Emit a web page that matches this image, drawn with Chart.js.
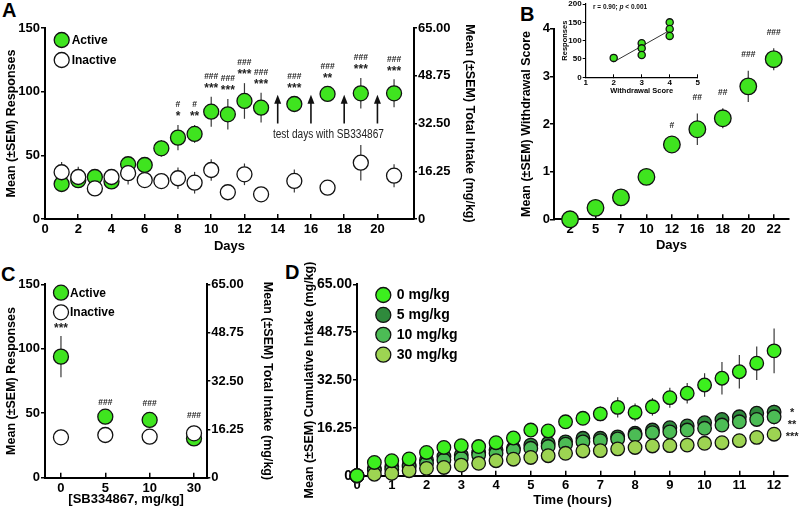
<!DOCTYPE html>
<html lang="en">
<head>
<meta charset="UTF-8">
<title>SB334867 self-administration figure</title>
<script src="https://cdn.jsdelivr.net/npm/chart.js"></script>
<style>
  body { margin: 0; width: 800px; height: 512px; position: relative; background: #fff; overflow: hidden;
         font-family: 'Liberation Sans', Arial, sans-serif; }
  canvas { position: absolute; }
  .panel { position: absolute; font-weight: bold; font-size: 20px; line-height: 1; }
</style>
</head>
<body>
<div class="panel" style="left:2px;top:0px">A</div>
<div class="panel" style="left:520px;top:4px">B</div>
<div class="panel" style="left:1px;top:264px">C</div>
<div class="panel" style="left:285px;top:262px">D</div>

<canvas id="chartA" width="481" height="258" style="left:0;top:0"></canvas>
<canvas id="chartB" width="285" height="257" style="left:515px;top:0"></canvas>
<canvas id="chartInset" width="150" height="103" style="left:558px;top:-6px"></canvas>
<canvas id="chartC" width="279" height="256" style="left:0;top:255px"></canvas>
<canvas id="chartD" width="502" height="257" style="left:298px;top:255px"></canvas>

<script>
// ---- data ----
// A: acquisition, responses per day
const daysA = [1, 2, 3, 4, 5, 6, 7, 8, 9, 10, 11, 12, 13, 15, 17, 19, 21];
const activeA = [27.5, 30.5, 33, 29.5, 43, 42.4, 55.5, 63.9, 66.8, 84.3, 82.2, 92.7, 87.4, 90.3, 98.2, 98.7, 98.7];
const activeSemA = [3, 3, 3, 3, 5.5, 3.5, 6.5, 10, 7, 11.8, 12, 14, 11.7, 6, 6, 12, 11];
const inactiveA = [36.7, 33, 24, 33, 36, 30.6, 29.8, 32, 28.5, 38.5, 21, 35.1, 19.4, 29.9, 24.6, 44.2, 34];
const inactiveSemA = [8, 8, 5, 5, 9, 5.5, 4, 8.5, 8.5, 8.5, 4, 8.5, 3, 9, 3, 14, 9];
const starsA = ['', '', '', '', '', '', '', '*', '**', '***', '***', '***', '***', '***', '**', '***', '***'];
const hashesA = ['', '', '', '', '', '', '', '#', '#', '###', '###', '###', '###', '###', '###', '###', '###'];
const testDays = [14, 16, 18, 20];
const seriesNames = ['Active', 'Inactive'];

// B: withdrawal score
const withdrawalDays = ['2', '5', '7', '10', '12', '16', '18', '20', '22'];
const withdrawalScore = [0, 0.24, 0.46, 0.89, 1.57, 1.89, 2.12, 2.79, 3.36];
const withdrawalSem = [0.03, 0.06, 0.08, 0.1, 0.05, 0.33, 0.21, 0.33, 0.23];
const withdrawalSig = ['', '', '', '', '#', '##', '##', '###', '###'];

// B inset: responses vs withdrawal score
const insetScore = [2, 3, 3, 3, 4, 4, 4];
const insetResponses = [53, 93, 79, 61, 150, 132, 113];

// C: SB334867 dose
const dosesC = ['0', '5', '10', '30'];
const activeC = [93.9, 47.3, 44.8, 30.5];
const activeSemC = [16, 3, 5, 3];
const inactiveC = [31.3, 33.1, 31.8, 34.4];
const inactiveSemC = [6, 4, 5, 6];
const starsC = ['***', '', '', ''];
const hashesC = ['', '###', '###', '###'];

// D: cumulative intake over the session
const hours = [0, 0.5, 1, 1.5, 2, 2.5, 3, 3.5, 4, 4.5, 5, 5.5, 6, 6.5, 7, 7.5, 8, 8.5, 9, 9.5, 10, 10.5, 11, 11.5, 12];
const doseLabels = ['0 mg/kg', '5 mg/kg', '10 mg/kg', '30 mg/kg'];
const intake0 = [0, 4.5, 5.1, 5.7, 7.9, 9.6, 10.2, 9.9, 11.2, 12.8, 15.5, 15.2, 18.3, 19.5, 21.0, 23.2, 21.5, 23.4, 26.5, 28.0, 30.8, 33.1, 35.3, 38.2, 42.4];
const sem0 = [0, 1, 1, 1, 1.2, 1.5, 1.5, 1.5, 1.8, 2, 2, 2, 2.2, 2.2, 2.5, 3.4, 3, 3, 3.4, 3.5, 4, 5.5, 5.7, 5.7, 7.6];
const intake5 = [0, 2.5, 3.0, 3.6, 5.3, 6.5, 7.0, 7.9, 8.7, 9.3, 10.4, 11.0, 11.5, 12.7, 12.7, 13.2, 14.4, 15.5, 16.3, 16.9, 18.0, 19.1, 20.0, 21.2, 21.6];
const sem5 = [0, 0.8, 0.8, 0.9, 1, 1, 1.1, 1.2, 1.2, 1.3, 1.3, 1.4, 1.4, 1.5, 1.5, 1.6, 1.6, 1.7, 1.8, 1.8, 2, 2, 2.2, 2.3, 2.5];
const intake10 = [0, 1.9, 2.2, 3.0, 4.2, 5.3, 5.9, 7.0, 7.6, 8.7, 9.3, 9.9, 10.7, 11.5, 11.9, 12.5, 13.8, 14.6, 14.9, 15.5, 16.1, 17.2, 18.3, 19.1, 20.0];
const sem10 = [0, 0.7, 0.8, 0.8, 1, 1, 1.1, 1.1, 1.2, 1.2, 1.3, 1.3, 1.4, 1.4, 1.5, 1.5, 1.6, 1.7, 1.8, 1.8, 2, 2.1, 2.3, 2.4, 2.6];
const intake30 = [0, 0.5, 0.8, 1.7, 2.5, 2.8, 3.6, 4.2, 5.1, 5.6, 6.2, 6.8, 7.6, 8.4, 8.5, 9.1, 9.6, 10.1, 10.2, 10.4, 11.0, 11.2, 11.9, 13.0, 14.1];
const sem30 = [0, 0.5, 0.6, 0.7, 0.8, 0.8, 0.9, 0.9, 1, 1, 1.1, 1.1, 1.2, 1.2, 1.3, 1.3, 1.4, 1.4, 1.4, 1.5, 1.5, 1.6, 1.7, 1.9, 2];
const starsD = ['', '*', '**', '***'];

// ---- styling ----
const FONT = "'Liberation Sans', Arial, sans-serif";
const GREEN = '#3fe41f';
const doseColors = ['#3cef1e', '#2f8a3c', '#4cbc55', '#9dd452'];
Chart.defaults.font.family = FONT;
Chart.defaults.color = '#000';

const pts = (xs, ys) => xs.map((x, i) => ({ x: x, y: ys[i] }));
const idx = arr => arr.map((_, i) => i);
const intakeFmt = v => v === 0 ? '0' : v.toFixed(2);

function axis(o) {
  const a = {
    type: 'linear', position: o.pos, min: o.min, max: o.max, display: true,
    afterFit: s => { if (o.pos === 'bottom') s.height = o.size; else s.width = o.size; },
    ticks: {
      stepSize: o.step, color: '#000', font: { size: o.fs || 13, weight: 'bold' },
      padding: o.pad, autoSkip: false, maxRotation: 0,
      callback: o.fmt || (v => v)
    },
    grid: { display: true, drawOnChartArea: false, drawTicks: true, tickLength: o.tl, color: '#000', lineWidth: o.tw || 1.5 },
    border: { display: true, color: '#000', width: o.bw || 2 },
    title: { display: true, text: o.title, color: '#000', font: { size: o.tfs || 12.5, weight: 'bold' },
             padding: { top: o.tp || 4, bottom: o.tp || 4 } }
  };
  if (o.ticks) a.afterBuildTicks = s => { s.ticks = o.ticks.map(v => ({ value: v })); };
  return a;
}

function dot(label, data, sem, fill, r) {
  return { label: label, data: data, sem: sem, clip: false,
           pointRadius: r, pointHoverRadius: r, pointBackgroundColor: fill,
           pointBorderColor: '#111', pointBorderWidth: 1.3 };
}

// vertical SEM bars, drawn behind the circles
const errorBars = {
  id: 'errorBars',
  beforeDatasetsDraw(chart) {
    const ctx = chart.ctx;
    chart.data.datasets.forEach((ds, i) => {
      if (!ds.sem) return;
      const meta = chart.getDatasetMeta(i);
      const ys = chart.scales[meta.yAxisID];
      ctx.save();
      ctx.strokeStyle = '#3a3a3a';
      ctx.lineWidth = 1.2;
      meta.data.forEach((pt, j) => {
        const v = ds.data[j].y, e = ds.sem[j];
        if (!e) return;
        ctx.beginPath();
        ctx.moveTo(pt.x, ys.getPixelForValue(v - e));
        ctx.lineTo(pt.x, ys.getPixelForValue(v + e));
        ctx.stroke();
      });
      ctx.restore();
    });
  }
};

function drawSig(ctx, px, py, stars, hashes, base) {
  ctx.save();
  ctx.fillStyle = '#222';
  ctx.textAlign = 'center';
  ctx.textBaseline = 'middle';
  let yy = py - base;
  if (stars) { ctx.font = 'bold 12px ' + FONT; ctx.fillText(stars, px, yy + 3); yy -= 9; }
  if (hashes) { ctx.font = 'bold 8.5px ' + FONT; ctx.fillText(hashes, px, yy); }
  ctx.restore();
}

function legendDot(ctx, x, y, r, fill, text, size, gap) {
  ctx.save();
  ctx.beginPath();
  ctx.arc(x, y, r, 0, Math.PI * 2);
  ctx.fillStyle = fill;
  ctx.fill();
  ctx.lineWidth = 1.3;
  ctx.strokeStyle = '#111';
  ctx.stroke();
  ctx.fillStyle = '#000';
  ctx.font = 'bold ' + size + 'px ' + FONT;
  ctx.textAlign = 'left';
  ctx.textBaseline = 'middle';
  ctx.fillText(text, x + r + gap, y + 0.5);
  ctx.restore();
}

const baseOptions = (padding, scales) => ({
  responsive: false, animation: false, events: [],
  layout: { padding: padding },
  plugins: { legend: { display: false }, tooltip: { enabled: false } },
  scales: scales
});

// ---- A ----
const annotateA = {
  id: 'annotateA',
  afterDatasetsDraw(chart) {
    const { ctx, chartArea, scales: { x, y } } = chart;
    daysA.forEach((d, i) => {
      const top = Math.max(activeA[i] + activeSemA[i], inactiveA[i] + inactiveSemA[i]);
      drawSig(ctx, x.getPixelForValue(d), y.getPixelForValue(top), starsA[i], hashesA[i], 11);
    });
    ctx.save();
    ctx.strokeStyle = '#111';
    ctx.fillStyle = '#111';
    ctx.lineWidth = 1.6;
    testDays.forEach(d => {
      const px = x.getPixelForValue(d), yb = y.getPixelForValue(75), yt = y.getPixelForValue(97.5);
      ctx.beginPath(); ctx.moveTo(px, yb); ctx.lineTo(px, yt + 6); ctx.stroke();
      ctx.beginPath(); ctx.moveTo(px, yt); ctx.lineTo(px - 3.5, yt + 9); ctx.lineTo(px + 3.5, yt + 9);
      ctx.closePath(); ctx.fill();
    });
    ctx.translate(x.getPixelForValue(17.05), y.getPixelForValue(66));
    ctx.scale(0.84, 1);
    ctx.font = '12px ' + FONT;
    ctx.textAlign = 'center';
    ctx.textBaseline = 'middle';
    ctx.fillStyle = '#222';
    ctx.fillText('test days with SB334867', 0, 0);
    ctx.restore();
    legendDot(ctx, chartArea.left + 16.7, chartArea.top + 12, 7.5, GREEN, seriesNames[0], 12, 2.5);
    legendDot(ctx, chartArea.left + 16.7, chartArea.top + 32, 7.5, '#fff', seriesNames[1], 12, 2.5);
  }
};

new Chart(document.getElementById('chartA'), {
  type: 'scatter',
  data: { datasets: [
    dot(seriesNames[1], pts(daysA, inactiveA), inactiveSemA, '#fff', 7.5),
    dot(seriesNames[0], pts(daysA, activeA), activeSemA, GREEN, 7.5)
  ] },
  options: baseOptions({ top: 28, left: 0, right: 0, bottom: 0 }, {
    x: axis({ pos: 'bottom', min: 0, max: 22.2, ticks: [0, 2, 4, 6, 8, 10, 12, 14, 16, 18, 20],
              title: 'Days', tfs: 13, size: 39, tl: -5, pad: 7.5 }),
    y: axis({ pos: 'left', min: 0, max: 150, step: 50, title: 'Mean (±SEM) Responses', size: 45, tl: 4, pad: 1 }),
    y2: axis({ pos: 'right', min: 0, max: 65, step: 16.25, fmt: intakeFmt,
               title: 'Mean (±SEM) Total Intake (mg/kg)', size: 67, tl: 3, pad: 1 })
  }),
  plugins: [errorBars, annotateA]
});

// ---- B ----
const annotateB = {
  id: 'annotateB',
  afterDatasetsDraw(chart) {
    const { ctx, scales: { x, y } } = chart;
    withdrawalScore.forEach((v, i) => {
      if (withdrawalSig[i]) drawSig(ctx, x.getPixelForValue(i), y.getPixelForValue(v + withdrawalSem[i]), '', withdrawalSig[i], 16);
    });
  }
};

new Chart(document.getElementById('chartB'), {
  type: 'scatter',
  data: { datasets: [
    dot('Withdrawal score', pts(idx(withdrawalDays), withdrawalScore), withdrawalSem, GREEN, 8.3)
  ] },
  options: baseOptions({ top: 28.7, left: 0, right: 11, bottom: 0 }, {
    x: axis({ pos: 'bottom', min: -0.63, max: 8.6, ticks: idx(withdrawalDays), fmt: v => withdrawalDays[v],
              title: 'Days', tfs: 13, size: 37.7, tl: -5, pad: 7.5 }),
    y: axis({ pos: 'left', min: 0, max: 4, step: 1, title: 'Mean (±SEM) Withdrawal Score', size: 39, tl: 4, pad: 0 })
  }),
  plugins: [errorBars, annotateB]
});

// ---- B inset ----
const insetExtras = {
  id: 'insetExtras',
  beforeDatasetsDraw(chart) {
    const { ctx, scales: { x, y } } = chart;
    const n = insetScore.length;
    const mx = insetScore.reduce((a, b) => a + b, 0) / n;
    const my = insetResponses.reduce((a, b) => a + b, 0) / n;
    let sxy = 0, sxx = 0;
    insetScore.forEach((s, i) => { sxy += (s - mx) * (insetResponses[i] - my); sxx += (s - mx) * (s - mx); });
    const slope = sxy / sxx, icpt = my - slope * mx;
    const x0 = Math.min(...insetScore), x1 = Math.max(...insetScore);
    ctx.save();
    ctx.strokeStyle = '#333';
    ctx.lineWidth = 1;
    ctx.beginPath();
    ctx.moveTo(x.getPixelForValue(x0), y.getPixelForValue(icpt + slope * x0));
    ctx.lineTo(x.getPixelForValue(x1), y.getPixelForValue(icpt + slope * x1));
    ctx.stroke();
    ctx.restore();
  },
  afterDatasetsDraw(chart) {
    const { ctx, chartArea } = chart;
    ctx.save();
    ctx.fillStyle = '#111';
    ctx.textBaseline = 'middle';
    let px = chartArea.left + 7.3;
    const py = chartArea.top + 3;
    ctx.font = 'bold 6.5px ' + FONT;
    ctx.fillText('r = 0.90; ', px, py);
    px += ctx.measureText('r = 0.90; ').width;
    ctx.font = 'italic bold 6.5px ' + FONT;
    ctx.fillText('p', px, py);
    px += ctx.measureText('p').width;
    ctx.font = 'bold 6.5px ' + FONT;
    ctx.fillText(' < 0.001', px, py);
    ctx.restore();
  }
};

new Chart(document.getElementById('chartInset'), {
  type: 'scatter',
  data: { datasets: [
    dot('Responses', pts(insetScore, insetResponses), null, GREEN, 3.6)
  ] },
  options: baseOptions({ top: 10, left: 0, right: 10.3, bottom: 0 }, {
    x: axis({ pos: 'bottom', min: 1, max: 5, ticks: [1, 2, 3, 4, 5], title: 'Withdrawal Score',
              fs: 8, tfs: 7.5, tp: 2, size: 19.7, tl: -3, pad: 3.6, bw: 1.2, tw: 1 }),
    y: axis({ pos: 'left', min: 0, max: 200, step: 50, title: 'Responses',
              fs: 8, tfs: 7.5, tp: 2, size: 27.7, tl: 3, pad: 1, bw: 1.2, tw: 1 })
  }),
  plugins: [insetExtras]
});

// ---- C ----
const annotateC = {
  id: 'annotateC',
  afterDatasetsDraw(chart) {
    const { ctx, chartArea, scales: { x, y } } = chart;
    dosesC.forEach((d, i) => {
      const top = Math.max(activeC[i] + activeSemC[i], inactiveC[i] + inactiveSemC[i]);
      drawSig(ctx, x.getPixelForValue(i), y.getPixelForValue(top), starsC[i], hashesC[i], 10);
    });
    legendDot(ctx, chartArea.left + 16, chartArea.top + 8.4, 7.5, GREEN, seriesNames[0], 12, 1.5);
    legendDot(ctx, chartArea.left + 16, chartArea.top + 28, 7.5, '#fff', seriesNames[1], 12, 1.5);
  }
};

new Chart(document.getElementById('chartC'), {
  type: 'scatter',
  data: { datasets: [
    dot(seriesNames[1], pts(idx(dosesC), inactiveC), inactiveSemC, '#fff', 7.5),
    dot(seriesNames[0], pts(idx(dosesC), activeC), activeSemC, GREEN, 7.5)
  ] },
  options: baseOptions({ top: 29.3, left: 0, right: 0, bottom: 0 }, {
    x: axis({ pos: 'bottom', min: -0.36, max: 3.3, ticks: idx(dosesC), fmt: v => dosesC[v],
              title: '[SB334867, mg/kg]', tfs: 13, size: 33.3, tl: -5, pad: 7.5 }),
    y: axis({ pos: 'left', min: 0, max: 150, step: 50, title: 'Mean (±SEM) Responses', size: 45, tl: 4, pad: 1 }),
    y2: axis({ pos: 'right', min: 0, max: 65, step: 16.25, fmt: intakeFmt,
               title: 'Mean (±SEM) Total Intake (mg/kg)', size: 71.7, tl: 3, pad: 1 })
  }),
  plugins: [errorBars, annotateC]
});

// ---- D ----
const intakeSeries = [intake0, intake5, intake10, intake30];
const annotateD = {
  id: 'annotateD',
  afterDatasetsDraw(chart) {
    const { ctx, chartArea, scales: { x, y } } = chart;
    const last = hours.length - 1;
    let prev = -Infinity;
    ctx.save();
    ctx.fillStyle = '#222';
    ctx.font = 'bold 11px ' + FONT;
    ctx.textAlign = 'center';
    ctx.textBaseline = 'middle';
    intakeSeries.forEach((s, k) => {
      if (!starsD[k]) return;
      let py = Math.max(y.getPixelForValue(s[last]) - 2, prev + 12);
      prev = py;
      ctx.fillText(starsD[k], x.getPixelForValue(hours[last]) + 18, py + 3);
    });
    ctx.restore();
    doseLabels.forEach((lab, k) => {
      legendDot(ctx, chartArea.left + 26.3, chartArea.top + 10.7 + k * 19.9, 7.5, doseColors[k], lab, 14, 6);
    });
  }
};

const semD = [sem0, sem5, sem10, sem30];
// first dataset is drawn on top
const drawOrder = [0, 3, 2, 1];
new Chart(document.getElementById('chartD'), {
  type: 'scatter',
  data: { datasets: drawOrder.map(k => dot(doseLabels[k], pts(hours, intakeSeries[k]), semD[k], doseColors[k], 6.8)) },
  options: baseOptions({ top: 29.3, left: 0, right: 12, bottom: 0 }, {
    x: axis({ pos: 'bottom', min: 0, max: 12.4, ticks: [0, 1, 2, 3, 4, 5, 6, 7, 8, 9, 10, 11, 12],
              title: 'Time (hours)', tfs: 13, size: 36.3, tl: -5, pad: 7 }),
    y: axis({ pos: 'left', min: 0, max: 65, step: 16.25, fmt: intakeFmt, fs: 14,
              title: 'Mean (±SEM) Cumulative Intake (mg/kg)', size: 59, tl: 4, pad: 1 })
  }),
  plugins: [errorBars, annotateD]
});
</script>
</body>
</html>
